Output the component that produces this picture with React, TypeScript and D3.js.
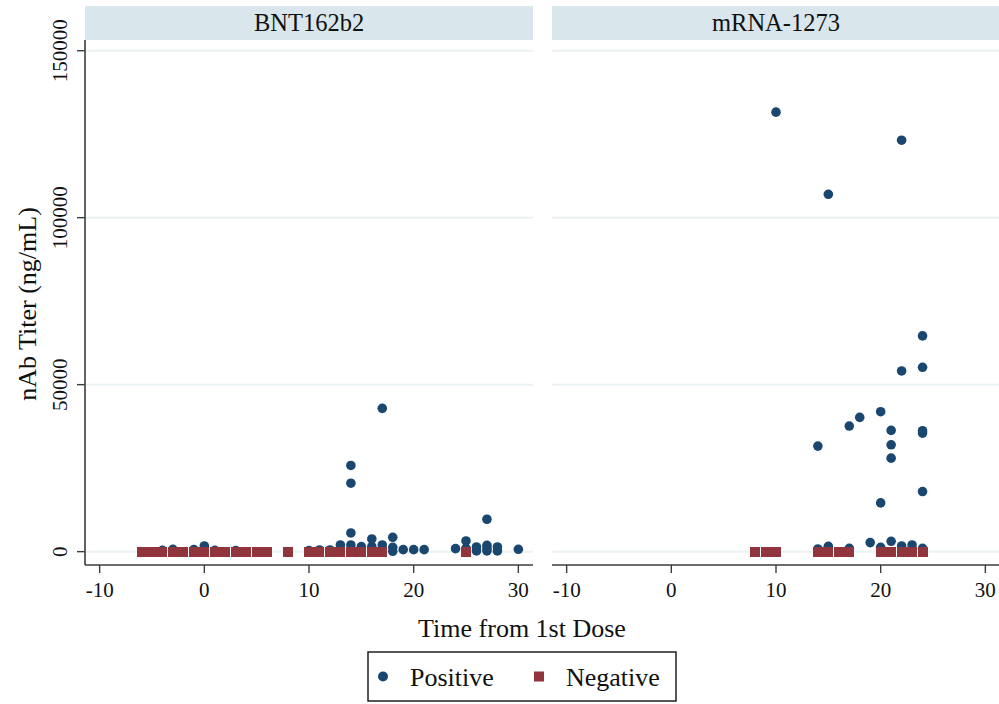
import React from "react";
import * as d3 from "d3";

// ---- Data ----
const panels = ["BNT162b2", "mRNA-1273"];

const bntPosDay = [-4, -3, -1, 0, 1, 3, 10, 11, 12, 13, 14, 14, 14, 14, 15, 16, 16, 17, 17, 18, 18, 18, 19, 20, 21, 24, 25, 25, 26, 26, 27, 27, 27, 27, 28, 28, 30];
const bntPosTiter = [400, 700, 600, 1700, 400, 300, 300, 500, 500, 2000, 2000, 5600, 20500, 25800, 1500, 1500, 3800, 2000, 42900, 100, 1300, 4300, 600, 600, 600, 900, 1000, 3200, 200, 1400, 200, 1000, 1900, 9700, 200, 1400, 700];
const bntNegDay = [-6, -5, -4, -3, -2, -1, 0, 1, 2, 3, 4, 5, 6, 8, 10, 11, 12, 13, 14, 15, 16, 17, 25];
const bntNegTiter = [0, 0, 0, 0, 0, 0, 0, 0, 0, 0, 0, 0, 0, 0, 0, 0, 0, 0, 0, 0, 0, 0, 0];

const mrnaPosDay = [10, 22, 15, 24, 22, 24, 20, 18, 17, 21, 24, 24, 14, 21, 21, 24, 20, 14, 15, 17, 19, 20, 21, 22, 23, 24];
const mrnaPosTiter = [131600, 123200, 107000, 64600, 54100, 55200, 41900, 40200, 37600, 36300, 36200, 35500, 31600, 32000, 28000, 18000, 14600, 800, 1600, 1000, 2700, 1300, 3100, 1700, 2000, 1000];
const mrnaNegDay = [8, 9, 10, 14, 15, 16, 17, 20, 21, 22, 23, 24];
const mrnaNegTiter = [0, 0, 0, 0, 0, 0, 0, 0, 0, 0, 0, 0];

const xTicks = [-10, 0, 10, 20, 30];
const yTicks = [0, 50000, 100000, 150000];
const legendLabels = ["Positive", "Negative"];
const xTitle = "Time from 1st Dose";
const yTitle = "nAb Titer (ng/mL)";

// ---- Styling / layout ----
const W = 999;
const H = 704;
const FONT = "'Liberation Serif', 'Times New Roman', serif";
const NAVY = "#1a476f";
const MAROON = "#90353b";
const STRIP = "#d9e6eb";
const GRID = "#eaf2f3";
const AXIS = "#3c3c3c";

const panelX = [
  [85, 533],
  [552, 1000],
];
const plotTop = 40;
const plotBottom = 565;
const stripTop = 6;

const yScale = d3.scaleLinear().domain([-4000, 153200]).range([plotBottom, plotTop]);

function Panel({ idx }: { idx: number }) {
  const [x0, x1] = panelX[idx];
  const xScale = d3.scaleLinear().domain([-11.4, 31.4]).range([x0, x1]);
  const posDay = idx === 0 ? bntPosDay : mrnaPosDay;
  const posTiter = idx === 0 ? bntPosTiter : mrnaPosTiter;
  const negDay = idx === 0 ? bntNegDay : mrnaNegDay;
  const negTiter = idx === 0 ? bntNegTiter : mrnaNegTiter;
  const sq = 10;
  return (
    <g>
      {/* strip */}
      <rect x={x0} y={stripTop} width={x1 - x0} height={plotTop - stripTop} fill={STRIP} />
      <text
        x={(x0 + x1) / 2}
        y={31}
        textAnchor="middle"
        fontFamily={FONT}
        fontSize={24.5}
        fill="#111"
      >
        {panels[idx]}
      </text>
      {/* gridlines */}
      {yTicks.map((t) => (
        <line key={t} x1={x0} x2={x1} y1={yScale(t)} y2={yScale(t)} stroke={GRID} strokeWidth={2} />
      ))}
      {/* positives */}
      {posDay.map((d, i) => (
        <circle key={"p" + i} cx={xScale(d)} cy={yScale(posTiter[i])} r={4.8} fill={NAVY} />
      ))}
      {/* negatives */}
      {negDay.map((d, i) => (
        <rect
          key={"n" + i}
          x={xScale(d) - sq / 2}
          y={yScale(negTiter[i]) - sq / 2}
          width={sq}
          height={sq}
          fill={MAROON}
          shapeRendering="crispEdges"
        />
      ))}
      {/* x axis */}
      <line x1={x0} x2={x1} y1={plotBottom} y2={plotBottom} stroke={AXIS} strokeWidth={1.6} />
      {xTicks.map((t) => (
        <g key={t}>
          <line x1={xScale(t)} x2={xScale(t)} y1={plotBottom} y2={plotBottom + 8} stroke={AXIS} strokeWidth={1.4} />
          <text
            x={xScale(t)}
            y={plotBottom + 32}
            textAnchor="middle"
            fontFamily={FONT}
            fontSize={21}
            fill="#111"
          >
            {t}
          </text>
        </g>
      ))}
      {/* y axis only on first panel */}
      {idx === 0 && (
        <g>
          <line x1={x0} x2={x0} y1={plotTop} y2={plotBottom} stroke={AXIS} strokeWidth={1.6} />
          {yTicks.map((t) => (
            <g key={t}>
              <line x1={x0 - 8} x2={x0} y1={yScale(t)} y2={yScale(t)} stroke={AXIS} strokeWidth={1.4} />
              <text
                transform={`translate(${x0 - 18},${yScale(t)}) rotate(-90)`}
                textAnchor="middle"
                fontFamily={FONT}
                fontSize={21}
                fill="#111"
              >
                {t}
              </text>
            </g>
          ))}
        </g>
      )}
    </g>
  );
}

export default function App() {
  const legendX = 368;
  const legendY = 652;
  const legendW = 308;
  const legendH = 49;
  const cy = legendY + legendH / 2;
  return (
    <div style={{ position: "absolute", left: 0, top: 0 }}>
      <svg width={W} height={H} style={{ display: "block", background: "#fff" }}>
        <rect x={0} y={0} width={W} height={H} fill="#fff" />
        <Panel idx={0} />
        <Panel idx={1} />
        {/* axis titles */}
        <text x={522} y={637} textAnchor="middle" fontFamily={FONT} fontSize={26} fill="#111">
          {xTitle}
        </text>
        <text
          transform={`translate(36,304) rotate(-90)`}
          textAnchor="middle"
          fontFamily={FONT}
          fontSize={26}
          fill="#111"
        >
          {yTitle}
        </text>
        {/* legend */}
        <rect x={legendX} y={legendY} width={legendW} height={legendH} fill="#fff" stroke="#111" strokeWidth={1.4} />
        <circle cx={383} cy={cy} r={5} fill={NAVY} />
        <text x={410} y={cy + 9} fontFamily={FONT} fontSize={26} fill="#111">
          {legendLabels[0]}
        </text>
        <rect x={534} y={cy - 5} width={10} height={10} fill={MAROON} />
        <text x={566} y={cy + 9} fontFamily={FONT} fontSize={26} fill="#111">
          {legendLabels[1]}
        </text>
      </svg>
    </div>
  );
}
